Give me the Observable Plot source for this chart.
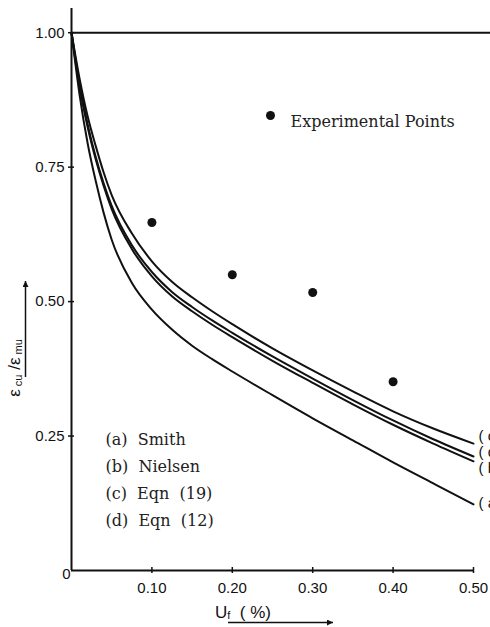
<!DOCTYPE html>
<html>
<head>
<meta charset="utf-8">
<script src="https://cdn.jsdelivr.net/npm/d3@7"></script>
<script src="https://cdn.jsdelivr.net/npm/@observablehq/plot@0.6"></script>
<style>
  html, body { margin: 0; padding: 0; background: #fff; }
  #chart svg { display: block; overflow: hidden; }
</style>
</head>
<body>
<div id="chart"></div>
<script>
// Fibre volume fraction Uf (%) at which each curve is sampled
const uf = [0, 0.01, 0.02, 0.03, 0.04, 0.05, 0.075, 0.10, 0.125, 0.15, 0.175, 0.20, 0.25, 0.30, 0.35, 0.40, 0.45, 0.50];

// Strain ratio εcu/εmu for each model
const curveA = [1.00, 0.885, 0.795, 0.725, 0.665, 0.615, 0.535, 0.485, 0.448, 0.418, 0.393, 0.370, 0.326, 0.283, 0.242, 0.201, 0.162, 0.123]; // Smith
const curveB = [1.00, 0.900, 0.825, 0.765, 0.715, 0.672, 0.598, 0.547, 0.510, 0.482, 0.457, 0.434, 0.390, 0.349, 0.309, 0.271, 0.236, 0.203]; // Nielsen
const curveC = [1.00, 0.915, 0.845, 0.790, 0.740, 0.698, 0.627, 0.575, 0.537, 0.508, 0.482, 0.458, 0.413, 0.372, 0.333, 0.296, 0.264, 0.236]; // Eqn (19)
const curveD = [1.00, 0.905, 0.830, 0.770, 0.720, 0.678, 0.605, 0.555, 0.518, 0.490, 0.465, 0.442, 0.398, 0.357, 0.317, 0.279, 0.244, 0.212]; // Eqn (12)

// Measured points
const expUf = [0.10, 0.20, 0.30, 0.40];
const expRatio = [0.647, 0.550, 0.517, 0.351];

// Legend entries and end-of-curve tags
const legendLabels = ["(a)  Smith", "(b)  Nielsen", "(c)  Eqn  (19)", "(d)  Eqn  (12)"];
const curveKeys = ["a", "b", "c", "d"];
const curveValues = [curveA, curveB, curveC, curveD];
const tagNudge = { a: -1, b: 7, c: -7, d: -4 };

const xTicks = [0.10, 0.20, 0.30, 0.40, 0.50];
const yTicks = [0.25, 0.50, 0.75, 1.00];

const lineRows = curveKeys.flatMap((k, i) =>
  uf.map((u, j) => ({ key: k, uf: u, ratio: curveValues[i][j] }))
);
const last = uf.length - 1;
const endRows = curveKeys.map((k, i) => ({ key: k, uf: uf[last], ratio: curveValues[i][last] }));
const expRows = expUf.map((u, i) => ({ uf: u, ratio: expRatio[i] }));

const sans = "'Liberation Sans', Arial, sans-serif";
const serif = "'DejaVu Serif', serif";

// one text mark per tag so each can get its own vertical nudge
const tagMarks = endRows.map(r => Plot.text([r], {
  x: "uf", y: "ratio", text: d => "( " + d.key + " )", textAnchor: "start",
  dx: 5, dy: tagNudge[r.key], fontSize: 15
}));

// one text mark per legend row
const legendMarks = legendLabels.map((t, i) => Plot.text([t], {
  frameAnchor: "top-left", dx: 34, dy: 425 + i * 27, textAnchor: "start",
  fontFamily: serif, fontSize: 16, fill: "#222"
}));

const W = 490, H = 627;
const chart = Plot.plot({
  width: W,
  height: H,
  marginLeft: 71,
  marginRight: 17,
  marginTop: 8,
  marginBottom: 57,
  style: { fontFamily: sans, fontSize: "15px", color: "#111", background: "#fff" },
  x: { domain: [0, 0.5], label: null },
  y: { domain: [0, 1.045], label: null },
  marks: [
    // axis lines
    Plot.ruleX([0], { y1: 0, y2: 1.045, stroke: "#111", strokeWidth: 2 }),
    Plot.ruleY([0], { x1: 0, x2: 0.5, stroke: "#111", strokeWidth: 2 }),
    // reference line at unity, running off the right edge
    Plot.ruleY([1], { x1: 0, x2: 0.6, stroke: "#111", strokeWidth: 2 }),
    // ticks crossing the axes
    Plot.axisX(xTicks, { tickSize: 6, dy: -3, tickFormat: () => "", label: null, strokeWidth: 1.5 }),
    Plot.axisY(yTicks, { tickSize: 6, dx: 3, tickFormat: () => "", label: null, strokeWidth: 1.5 }),
    // tick labels
    Plot.axisX(xTicks, { tickSize: 0, tickPadding: 12, tickFormat: d3.format(".2f"), label: null, fontSize: 15 }),
    Plot.axisY(yTicks, { tickSize: 0, tickPadding: 7, tickFormat: d3.format(".2f"), label: null, fontSize: 15 }),
    Plot.text([0], { x: 0, y: 0, text: () => "0", textAnchor: "end", dx: -1, dy: 4, fontSize: 15 }),
    // model curves
    Plot.line(lineRows, { x: "uf", y: "ratio", z: "key", stroke: "#111", strokeWidth: 2, curve: "monotone-x" }),
    ...tagMarks,
    // experimental points
    Plot.dot(expRows, { x: "uf", y: "ratio", r: 4.5, fill: "#111", stroke: "none" }),
    // legend for the points
    Plot.dot([0], { frameAnchor: "top-left", dx: 199, dy: 107, r: 4.5, fill: "#111" }),
    Plot.text(["Experimental Points"], {
      frameAnchor: "top-left", dx: 219, dy: 107, textAnchor: "start", fontFamily: serif, fontSize: 16, fill: "#222"
    }),
    ...legendMarks
  ]
});

const svg = d3.select(chart);
svg.style("overflow", "hidden");

// arrowhead for the axis captions
svg.append("defs").append("marker")
  .attr("id", "arrowhead").attr("viewBox", "0 0 10 10")
  .attr("refX", 10).attr("refY", 5)
  .attr("markerWidth", 10).attr("markerHeight", 6)
  .attr("markerUnits", "userSpaceOnUse")
  .attr("orient", "auto")
  .append("path").attr("d", "M0,0L10,5L0,10z").attr("fill", "#111");

// x caption: Uf (%) with an arrow underneath
const xl = svg.append("text")
  .attr("x", 243).attr("y", 618)
  .attr("font-family", sans).attr("font-size", 17).attr("fill", "#111");
xl.append("tspan").text("U");
xl.append("tspan").attr("font-size", 11).attr("dy", 1).text("f");
xl.append("tspan").attr("dy", -1).attr("font-size", 17).text("  ( %)");
svg.append("line")
  .attr("x1", 228).attr("y1", 622.5).attr("x2", 333).attr("y2", 622.5)
  .attr("stroke", "#111").attr("stroke-width", 1.5).attr("marker-end", "url(#arrowhead)");

// y caption: εcu/εmu rotated, with an arrow beside it
const yl = svg.append("text")
  .attr("transform", "translate(20,368) rotate(-90)")
  .attr("font-family", sans).attr("font-size", 17).attr("fill", "#111");
yl.append("tspan").text("ε");
yl.append("tspan").attr("font-size", 11).attr("dy", 2).text(" cu");
yl.append("tspan").attr("dy", -2).attr("font-size", 17).text(" /ε");
yl.append("tspan").attr("font-size", 11).attr("dy", 2).text(" mu");
svg.append("line")
  .attr("x1", 25.5).attr("y1", 377).attr("x2", 25.5).attr("y2", 281)
  .attr("stroke", "#111").attr("stroke-width", 1.5).attr("marker-end", "url(#arrowhead)");

document.getElementById("chart").appendChild(chart);
</script>
</body>
</html>
